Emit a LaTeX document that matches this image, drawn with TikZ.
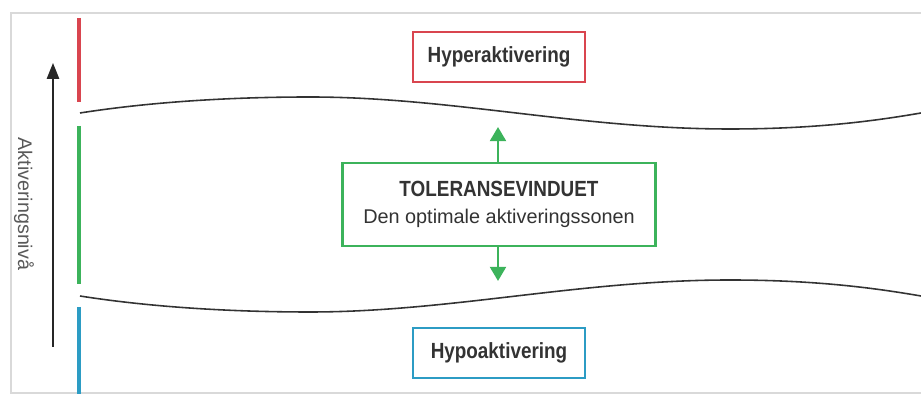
\documentclass[tikz,border=0pt]{standalone}
\usepackage{fontspec}
\setmainfont{Liberation Sans}
\usepackage{graphicx}
\usepackage{tikz}
\usetikzlibrary{arrows.meta, positioning}
\definecolor{hyperred}{HTML}{D9454F}
\definecolor{tolgreen}{HTML}{3CB35B}
\definecolor{hypoblue}{HTML}{2C9CC4}
\definecolor{txtgray}{HTML}{333333}
\newcommand{\condbf}[1]{\scalebox{0.86}[1]{\bfseries #1}}

\begin{document}
\begin{tikzpicture}[x=0.02cm, y=-0.02cm,
    zonebox/.style={draw, line width=1.5pt, fill=white, text=txtgray, align=center},
    bar/.style={line width=2.6pt},
    wave/.style={line width=0.9pt, black!80},
    zonearrow/.style={tolgreen, line width=1.5pt, -{Triangle[width=9pt,length=8pt]}}]
    \useasboundingbox (0,0) rectangle (921,394);
    % frame
    \draw[black!15, line width=1pt] (11,13) rectangle (930,393);

    % Bars for the three zones
    \draw[bar, hyperred] (79,18) -- (79,102);
    \draw[bar, tolgreen] (79,126) -- (79,284);
    \draw[bar, hypoblue] (79,307) -- (79,394);

    % Axis
    \coordinate (axbot) at (53,347);
    \coordinate (axtop) at (53,63);
    \draw[black!85, line width=0.9pt, -{Triangle[width=7pt,length=9pt]}] (axbot) -- (axtop);
    \node[rotate=-90, text=black!65, font=\fontsize{11.2}{13}\selectfont] (axlabel) at (24,204) {Aktiveringsniv\aa};

    % Window borders
    \draw[wave] (80,113) .. controls (150,102) and (230,97) .. (310,97)
        .. controls (450,97) and (580,129) .. (730,129)
        .. controls (820,129) and (880,120) .. (921,113);
    \draw[wave] (80,296) .. controls (150,307) and (230,312) .. (310,312)
        .. controls (450,312) and (580,280) .. (730,280)
        .. controls (820,280) and (880,289) .. (921,296);

    % Zones
    \node[zonebox, draw=hyperred, minimum width=3.44cm, minimum height=1cm, font=\fontsize{12.5}{14}\selectfont] (hyper) at (499,57) {\condbf{Hyperaktivering}};
    \node[zonebox, draw=tolgreen, minimum width=6.26cm, minimum height=1.66cm] (tol) at (499,204.5)
        {{\fontsize{12.5}{14}\selectfont\condbf{TOLERANSEVINDUET}}\\[3pt]{\fontsize{11.3}{13}\selectfont Den optimale aktiveringssonen}};
    \node[zonebox, draw=hypoblue, minimum width=3.44cm, minimum height=1cm, font=\fontsize{12.5}{14}\selectfont] (hypo) at (499,353) {\condbf{Hypoaktivering}};

    \coordinate (tolup) at (498,127);
    \coordinate (toldown) at (498,281);
    \draw[zonearrow] (tol.north -| tolup) -- (tolup);
    \draw[zonearrow] (tol.south -| toldown) -- (toldown);
\end{tikzpicture}
\end{document}
